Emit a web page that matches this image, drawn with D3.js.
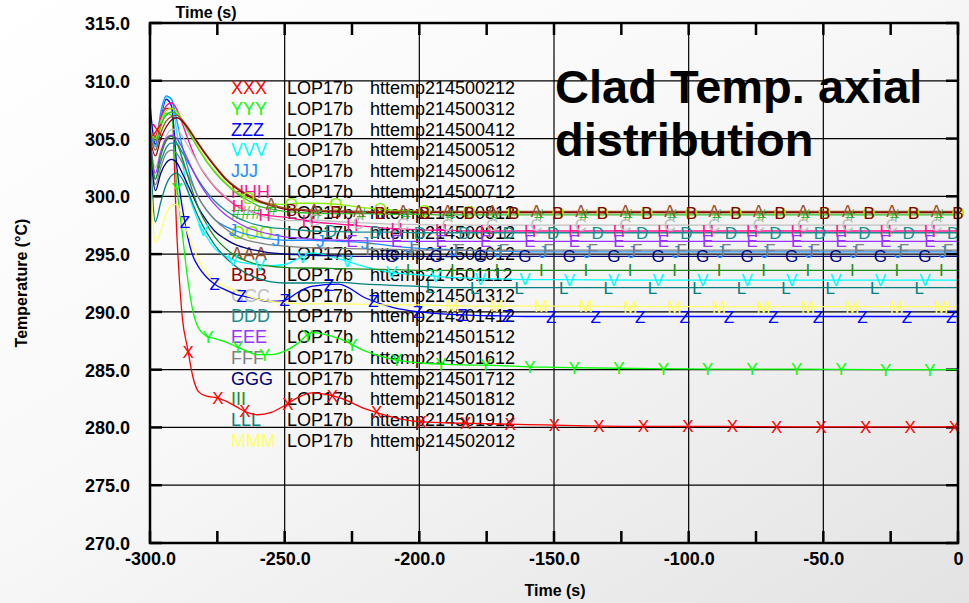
<!DOCTYPE html>
<html><head><meta charset="utf-8">
<script src="https://cdn.jsdelivr.net/npm/d3@7"></script>
<style>
html,body{margin:0;padding:0;background:#fff;}
svg{display:block;font-family:"Liberation Sans",Arial,sans-serif;}
</style></head>
<body>
<svg id="chart" width="969" height="603"></svg>
<script>
// ---------- DATA ----------
const times = [-300,-298,-296,-294,-292,-290,-288,-286,-284,-282,-279,-276,-272,-268,-264,-260,-255,-250,-245,-240,-230,-220,-210,-200,-190,-180,-170,-160,-150,-120,-90,-60,-30,0];

const xTicks = [-300,-250,-200,-150,-100,-50,0];
const xTickLabels = ["-300.0","-250.0","-200.0","-150.0","-100.0","-50.0","0"];
const xMinorTicks = [-275,-225,-175,-125,-75,-25];
const yTicks = [270,275,280,285,290,295,300,305,310,315];
const yTickLabels = ["270.0","275.0","280.0","285.0","290.0","295.0","300.0","305.0","310.0","315.0"];

const seriesNames = ["XXX","YYY","ZZZ","VVV","JJJ","HHH","###","OOO","AAA","BBB","CCC","DDD","EEE","FFF","GGG","III","LLL","MMM"];
const seriesCase = "LOP17b";
const seriesFiles = ["httemp214500212","httemp214500312","httemp214500412","httemp214500512","httemp214500612","httemp214500712","httemp214500812","httemp214500912","httemp214501012","httemp214501112","httemp214501312","httemp214501412","httemp214501512","httemp214501612","httemp214501712","httemp214501812","httemp214501912","httemp214502012"];
const markerLetters = ["X","Y","Z","V","J","H","#","O","A","B","C","D","E","F","G","I","L","M"];
const seriesColors = ["#ff0000","#00ff00","#0000ff","#00ffff","#1e90ff","#ff1493","#33bb33","#88ee00","#a0522d","#8b0000","#c0c0c0","#1a8f8f","#9933ff","#808080","#000080","#228b22","#008080","#ffff66"];

const tempXXX = [305.5,305.2,306.8,307.6,307.6,296.5,289.5,286.8,284.3,283.1,282.7,282.6,282.3,281.8,281.3,281.1,281.3,281.9,282.6,283.0,282.6,281.6,280.9,280.5,280.4,280.35,280.3,280.25,280.2,280.1,280.1,280.05,280.05,280.05];
const tempYYY = [305.5,304.5,306.0,307.2,307.0,300.8,296.8,292.8,290.0,288.6,287.9,287.7,287.4,287.0,286.6,286.3,286.3,286.6,287.3,288.2,287.7,286.6,285.9,285.6,285.45,285.4,285.35,285.25,285.2,285.1,285.05,285.05,285.0,285.0];
const tempZZZ = [308.0,304.5,306.8,308.4,307.8,302.5,299.0,296.5,294.8,293.9,293.0,292.4,291.9,291.5,291.3,291.1,290.9,291.0,291.7,292.2,292.4,291.2,290.4,290.0,289.8,289.7,289.65,289.6,289.6,289.6,289.6,289.6,289.6,289.6];
const tempVVV = [305.8,304.0,307.0,308.6,308.4,305.5,303.0,300.5,299.0,297.8,296.5,295.5,294.8,294.4,294.2,294.1,294.0,294.1,294.6,295.1,294.6,293.9,293.4,293.2,293.0,292.9,292.85,292.8,292.8,292.75,292.75,292.75,292.75,292.75];
const tempJJJ = [305.8,304.3,307.3,308.7,308.4,306.5,304.3,302.5,301.0,299.9,298.8,298.0,297.4,297.0,296.7,296.5,296.3,296.2,296.2,296.2,296.1,296.0,295.7,295.5,295.4,295.3,295.25,295.2,295.2,295.2,295.2,295.2,295.2,295.2];
const tempHHH = [305.5,304.8,306.8,307.8,308.1,307.5,306.3,305.0,303.8,302.8,301.7,300.8,299.9,299.2,298.8,298.5,298.3,298.2,298.0,297.8,297.6,297.4,297.2,297.1,297.05,297.0,297.0,297.0,297.0,297.0,297.0,297.0,297.0,297.0];
const tempSharp = [305.6,304.8,306.2,307.0,307.3,307.1,306.5,305.7,304.9,304.1,303.0,302.1,301.1,300.3,299.7,299.2,298.9,298.7,298.6,298.55,298.5,298.5,298.45,298.45,298.4,298.4,298.4,298.4,298.4,298.4,298.4,298.4,298.4,298.4];
const tempOOO = [305.7,305.0,306.5,307.4,307.6,307.3,306.6,305.8,305.0,304.2,303.1,302.2,301.2,300.4,299.9,299.5,299.3,299.3,299.4,299.4,299.3,299.0,298.8,298.7,298.65,298.6,298.6,298.6,298.6,298.6,298.6,298.6,298.6,298.6];
const tempAAA = [305.3,304.0,305.5,306.5,306.9,307.0,306.6,306.0,305.3,304.6,303.6,302.7,301.6,300.8,300.2,299.7,299.3,299.0,298.9,298.8,298.75,298.7,298.7,298.7,298.7,298.7,298.7,298.7,298.7,298.7,298.7,298.7,298.7,298.7];
const tempBBB = [305.0,303.5,305.0,306.0,306.6,306.8,306.5,305.9,305.2,304.5,303.5,302.6,301.5,300.7,300.1,299.6,299.2,298.9,298.8,298.7,298.65,298.6,298.6,298.6,298.6,298.6,298.6,298.6,298.6,298.6,298.6,298.6,298.6,298.6];
const tempCCC = [305.0,302.5,304.0,305.2,305.8,305.8,305.2,304.4,303.6,302.8,301.8,300.9,300.0,299.3,298.8,298.4,298.1,297.9,297.9,297.95,297.8,297.7,297.6,297.55,297.5,297.5,297.5,297.5,297.5,297.5,297.5,297.5,297.5,297.5];
const tempDDD = [305.0,301.5,303.0,304.2,304.6,304.5,303.8,303.0,302.2,301.4,300.4,299.6,298.8,298.2,297.8,297.5,297.3,297.2,297.1,297.0,296.95,296.9,296.9,296.85,296.85,296.85,296.85,296.85,296.85,296.85,296.85,296.85,296.85,296.85];
const tempEEE = [305.2,302.0,303.8,305.0,305.3,305.0,304.2,303.2,302.2,301.3,300.2,299.3,298.4,297.8,297.3,297.0,296.7,296.5,296.4,296.3,296.2,296.15,296.1,296.1,296.1,296.1,296.1,296.1,296.1,296.1,296.1,296.1,296.1,296.1];
const tempFFF = [305.0,301.0,302.5,303.7,304.0,303.7,302.9,301.9,300.9,299.9,298.8,298.0,297.2,296.6,296.2,296.0,295.8,295.7,295.6,295.55,295.5,295.45,295.4,295.35,295.35,295.35,295.35,295.35,295.35,295.35,295.35,295.35,295.35,295.35];
const tempGGG = [304.8,300.5,302.0,302.9,303.2,302.9,302.0,301.0,300.0,299.0,297.9,297.0,296.3,295.8,295.5,295.3,295.1,295.0,294.95,294.9,294.85,294.8,294.8,294.8,294.8,294.8,294.8,294.8,294.8,294.8,294.8,294.8,294.8,294.8];
const tempIII = [305.2,301.5,303.5,304.8,305.2,304.6,303.3,301.8,300.3,299.0,297.6,296.5,295.5,294.8,294.4,294.1,293.95,293.85,293.8,293.8,293.75,293.7,293.65,293.6,293.6,293.6,293.6,293.6,293.6,293.6,293.6,293.6,293.6,293.6];
const tempLLL = [304.5,297.8,299.5,301.0,301.8,302.0,301.5,300.5,299.3,298.2,296.9,295.8,294.7,293.9,293.3,292.9,292.6,292.5,292.5,292.5,292.55,292.4,292.3,292.2,292.1,292.1,292.1,292.1,292.1,292.1,292.1,292.1,292.1,292.1];
const tempMMM = [303.0,296.0,297.0,298.5,299.2,299.3,298.0,296.8,295.6,294.5,293.4,292.7,292.2,291.8,291.4,291.1,290.9,290.8,290.7,290.7,290.7,290.65,290.6,290.6,290.55,290.5,290.5,290.5,290.5,290.45,290.45,290.45,290.45,290.45];

// marker schedule (s), per-series phase shift (s) and first marker time (s)
const markerSchedule = [-295.5,-284,-273,-263,-247,-230.5,-214,-197.5,-181,-164.5,-148,-131.5,-115,-98.5,-82,-65.5,-49,-32.5,-16,0.5];
const markerShift = [-1.8,5.6,-3,3.7,-6.2,5.6,-7.5,-0.5,8,-0.5,8,-2.3,5.6,-4.1,3.7,-6.7,1.6,-6.7];
const markerStart = [-298,-293,-288,-281,-278,-274,-270,-266,-262,-256,-247,-238,-232,-226,-218,-210,-204,-196];

const seriesValues = [tempXXX,tempYYY,tempZZZ,tempVVV,tempJJJ,tempHHH,tempSharp,tempOOO,tempAAA,tempBBB,tempCCC,tempDDD,tempEEE,tempFFF,tempGGG,tempIII,tempLLL,tempMMM];

// ---------- DRAW ----------
const svg = d3.select("#chart");
const W = 969, H = 603;
const L = 150, R = 958, T = 23, B = 543;

const defs = svg.append("defs");
const g = defs.append("linearGradient").attr("id","bg").attr("x1",0).attr("y1",0).attr("x2",1).attr("y2",1);
g.append("stop").attr("offset","0").attr("stop-color","#ffffff");
g.append("stop").attr("offset","0.45").attr("stop-color","#f8f8f8");
g.append("stop").attr("offset","1").attr("stop-color","#e3e3e3");
svg.append("rect").attr("width",W).attr("height",H).attr("fill","url(#bg)");

const x = d3.scaleLinear().domain([-300,0]).range([L,R]);
const y = d3.scaleLinear().domain([270,315]).range([B,T]);

// title
const title = svg.append("g").attr("font-weight","bold").attr("font-size",47).attr("fill","#000");
title.append("text").attr("x",555).attr("y",103).text("Clad Temp. axial");
title.append("text").attr("x",555).attr("y",156).text("distribution");

// grid
const grid = svg.append("g").attr("stroke","#000").attr("stroke-width",1.2);
grid.selectAll("line.h").data(yTicks.slice(1,-1)).join("line")
  .attr("x1",L).attr("x2",R).attr("y1",d=>y(d)).attr("y2",d=>y(d));
grid.selectAll("line.v").data(xTicks.slice(1,-1)).join("line")
  .attr("y1",T).attr("y2",B).attr("x1",d=>x(d)).attr("x2",d=>x(d));

// ticks (inside)
const tk = svg.append("g").attr("stroke","#000").attr("stroke-width",2.5);
yTicks.forEach(v=>{
  tk.append("line").attr("x1",L).attr("x2",L+12).attr("y1",y(v)).attr("y2",y(v));
  tk.append("line").attr("x1",R).attr("x2",R-12).attr("y1",y(v)).attr("y2",y(v));
});
xTicks.concat(xMinorTicks).forEach(t=>{
  tk.append("line").attr("x1",x(t)).attr("x2",x(t)).attr("y1",B).attr("y2",B-12);
  tk.append("line").attr("x1",x(t)).attr("x2",x(t)).attr("y1",T).attr("y2",T+12);
});

// legend
const leg = svg.append("g").attr("font-size",18);
seriesNames.forEach((n,i)=>{
  const yy = 94 + i*20.75;
  leg.append("text").attr("x",231).attr("y",yy).attr("fill",seriesColors[i]).text(n);
  leg.append("text").attr("x",287).attr("y",yy).attr("fill","#000").text(seriesCase);
  leg.append("text").attr("x",370).attr("y",yy).attr("fill","#000").text(seriesFiles[i]);
});

// curves
const line = d3.line().x(d=>x(d[0])).y(d=>y(d[1])).curve(d3.curveMonotoneX);
const curves = svg.append("g").attr("fill","none").attr("stroke-width",1.3);
seriesValues.forEach((vals,i)=>{
  const pts = times.map((t,k)=>[t,vals[k]]);
  curves.append("path").attr("d",line(pts)).attr("stroke",seriesColors[i]);
});
// markers
const mk = svg.append("g").attr("font-size",17).attr("text-anchor","middle");
seriesValues.forEach((vals,i)=>{
  const interp = d3.scaleLinear().domain(times).range(vals);
  markerSchedule.map(t=>t+markerShift[i]).filter(t=>t>=markerStart[i] && t<=0).forEach(t=>{
    mk.append("text").attr("x",x(t)).attr("y",y(interp(t))+6).attr("fill",seriesColors[i]).text(markerLetters[i]);
  });
});

// frame
svg.append("rect").attr("x",L).attr("y",T).attr("width",R-L).attr("height",B-T)
  .attr("fill","none").attr("stroke","#000").attr("stroke-width",2.5);

// axes
const xa = svg.append("g").attr("transform",`translate(0,${B})`)
  .call(d3.axisBottom(x).tickValues(xTicks).tickFormat((d,i)=>xTickLabels[i]).tickSize(0).tickPadding(9));
const ya = svg.append("g").attr("transform",`translate(${L},0)`)
  .call(d3.axisLeft(y).tickValues(yTicks).tickFormat((d,i)=>yTickLabels[i]).tickSize(0).tickPadding(20));
[xa,ya].forEach(a=>{
  a.select(".domain").remove();
  a.selectAll("text").attr("font-size",18).attr("font-weight","bold").attr("fill","#000")
    .attr("font-family","'Liberation Sans',Arial,sans-serif");
});
xa.selectAll("text").attr("dy","0.71em");
ya.selectAll("text").attr("dy","0.36em");

// axis titles
svg.append("text").attr("x",206).attr("y",18).attr("text-anchor","middle")
  .attr("font-weight","bold").attr("font-size",16).text("Time (s)");
svg.append("text").attr("x",555).attr("y",596).attr("text-anchor","middle")
  .attr("font-weight","bold").attr("font-size",16).text("Time (s)");
svg.append("text").attr("transform","translate(27,283) rotate(-90)").attr("text-anchor","middle")
  .attr("font-weight","bold").attr("font-size",16).text("Temperature (°C)");
</script>
</body></html>
